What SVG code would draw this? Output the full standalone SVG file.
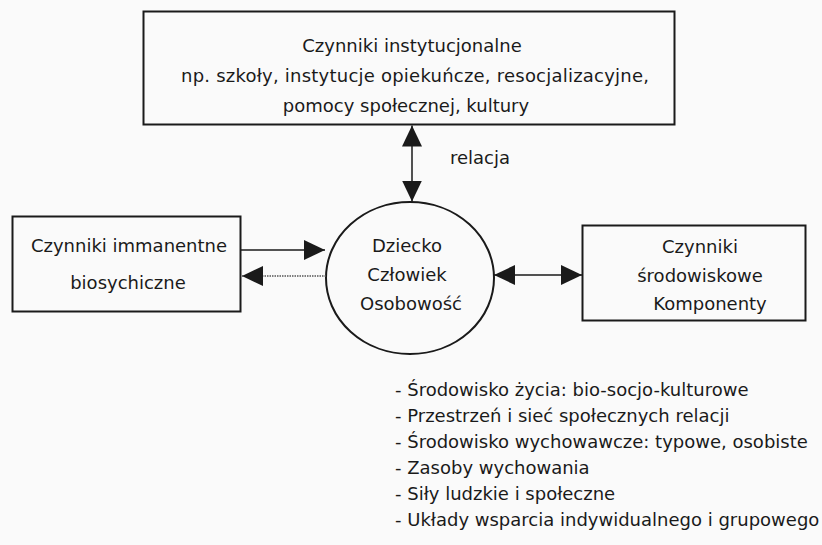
<svg xmlns="http://www.w3.org/2000/svg" width="822" height="545" viewBox="0 0 822 545">
<style>
text { font-family: "DejaVu Sans", "Liberation Sans", sans-serif; font-size: 18px; fill: #1a1a1a; }
.box { fill: none; stroke: #1a1a1a; stroke-width: 2; }
.c { text-anchor: middle; }
.ln { stroke: #1a1a1a; stroke-width: 1.5; fill: none; }
.dot { stroke: #555; stroke-width: 1.5; stroke-dasharray: 1.5 1; fill: none; }
</style>
<defs>
<marker id="ah" viewBox="0 0 21 20" refX="21" refY="10" markerWidth="21" markerHeight="20" markerUnits="userSpaceOnUse" orient="auto-start-reverse">
<path d="M0,0 L21,10 L0,20 z" fill="#1a1a1a"/>
</marker>
</defs>
<rect width="822" height="545" fill="#fafafa"/>
<g id="inst">
<rect class="box" x="143.5" y="11.5" width="531" height="113"/>
<text class="c" x="412" y="52">Czynniki instytucjonalne</text>
<text class="c" x="415" y="82" textLength="468">np. szkoły, instytucje opiekuńcze, resocjalizacyjne,</text>
<text class="c" x="406" y="112">pomocy społecznej, kultury</text>
</g>
<g id="immanent">
<rect class="box" x="12.5" y="216.5" width="228" height="95"/>
<text class="c" x="129" y="252">Czynniki immanentne</text>
<text class="c" x="128" y="289">biosychiczne</text>
</g>
<g id="child">
<ellipse class="box" cx="410" cy="278" rx="84" ry="76"/>
<text class="c" x="407" y="252">Dziecko</text>
<text class="c" x="407" y="281">Człowiek</text>
<text class="c" x="411" y="310">Osobowość</text>
</g>
<g id="env">
<rect class="box" x="582.5" y="225.5" width="223" height="95"/>
<text class="c" x="700" y="253">Czynniki</text>
<text class="c" x="700" y="282">środowiskowe</text>
<text class="c" x="710" y="310">Komponenty</text>
</g>
<g id="connectors">
<line class="ln" x1="412" y1="125.5" x2="412" y2="201.5" marker-start="url(#ah)" marker-end="url(#ah)"/>
<text x="450" y="164">relacja</text>
<line class="ln" x1="241" y1="250" x2="325" y2="250" marker-end="url(#ah)"/>
<line class="dot" x1="326" y1="276" x2="242" y2="276" marker-end="url(#ah)"/>
<line class="ln" x1="494" y1="275" x2="582" y2="275" marker-start="url(#ah)" marker-end="url(#ah)"/>
</g>
<g id="list">
<text x="395" y="396">- Środowisko życia: bio-socjo-kulturowe</text>
<text x="395" y="422">- Przestrzeń i sieć społecznych relacji</text>
<text x="395" y="448">- Środowisko wychowawcze: typowe, osobiste</text>
<text x="395" y="474">- Zasoby wychowania</text>
<text x="395" y="500">- Siły ludzkie i społeczne</text>
<text x="395" y="526">- Układy wsparcia indywidualnego i grupowego</text>
</g>
</svg>
